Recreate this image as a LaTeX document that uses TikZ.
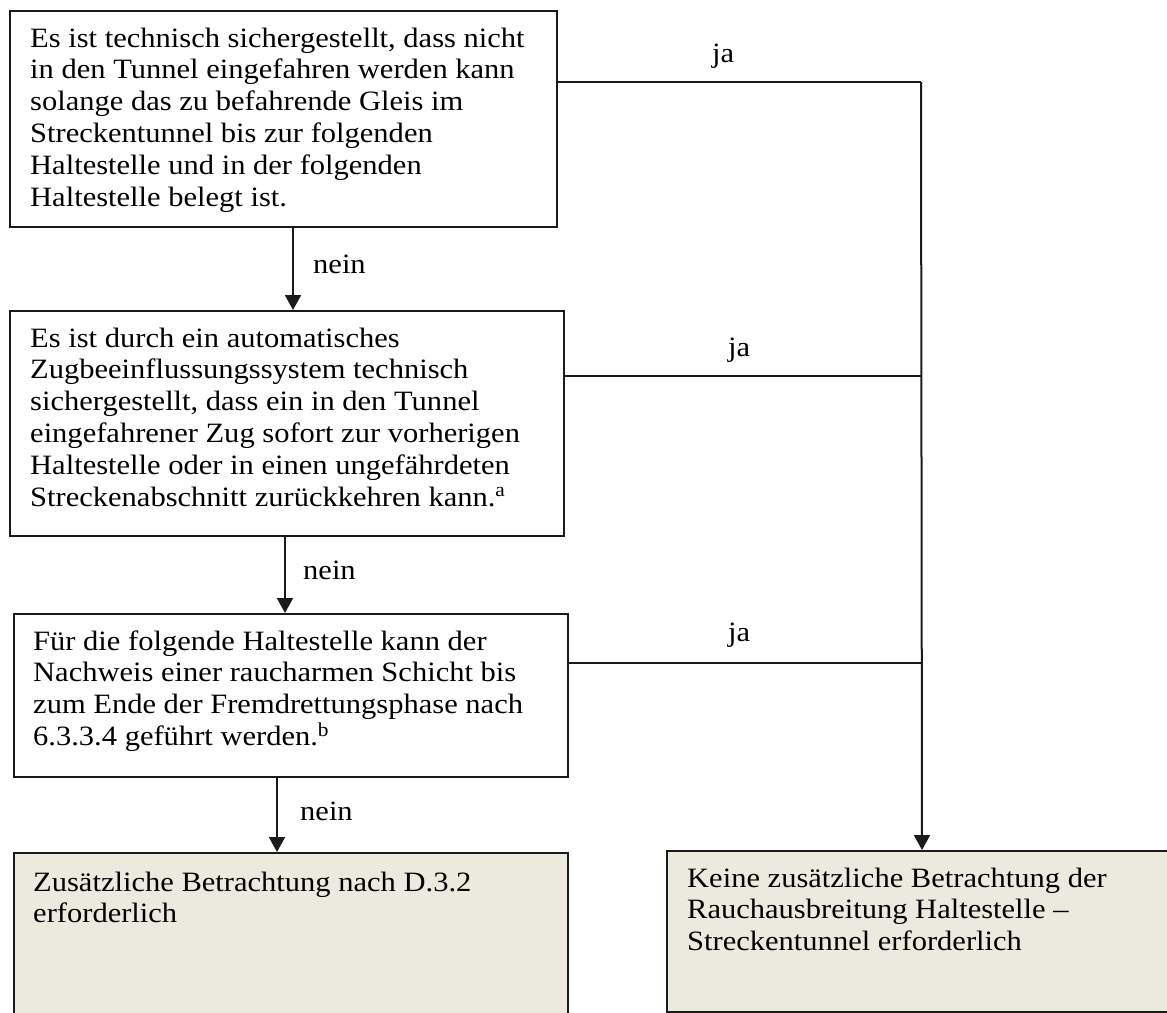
\documentclass[tikz,border=0pt]{standalone}
\usepackage{fontspec}
\setmainfont{Liberation Serif}[FakeStretch=1.09]
\usetikzlibrary{arrows.meta}
\definecolor{boxfill}{HTML}{ECE9DF}
\definecolor{ink}{HTML}{1A1A1A}
\newcommand{\blines}[1]{\begin{tabular}[t]{@{}l@{}}#1\end{tabular}}
\begin{document}
\begin{tikzpicture}[x=1pt,y=-1pt,
  box/.style={draw=ink, line width=2pt, rectangle, inner sep=0pt, anchor=north west},
  endbox/.style={box, fill=boxfill},
  txt/.style={anchor=base west, inner sep=0pt, font=\fontsize{28}{31.8}\selectfont, text=black},
  lbl/.style={anchor=base west, inner sep=0pt, font=\fontsize{28}{31.8}\selectfont, text=black},
  conn/.style={draw=ink, line width=2pt},
  arr/.style={conn, -{Triangle[width=16pt,length=15pt]}}]
\useasboundingbox (0,0) rectangle (1167,1012);

% boxes
\node[box, minimum width=547pt, minimum height=216pt] (b1) at (9,10) {};
\node[box, minimum width=554pt, minimum height=225pt] (b2) at (9,310) {};
\node[box, minimum width=554pt, minimum height=163pt] (b3) at (13,613) {};
\node[endbox, minimum width=554pt, minimum height=170pt] (bl) at (13,852) {};
\node[endbox, minimum width=510pt, minimum height=161pt] (br) at (666,850) {};

% texts
\node[txt] (t1) at (30,47) {\blines{Es ist technisch sichergestellt, dass nicht\\in den Tunnel eingefahren werden kann\\solange das zu befahrende Gleis im\\Streckentunnel bis zur folgenden\\Haltestelle und in der folgenden\\Haltestelle belegt ist.}};
\node[txt] (t2) at (30,347) {\blines{Es ist durch ein automatisches\\Zugbeeinflussungssystem technisch\\sichergestellt, dass ein in den Tunnel\\eingefahrener Zug sofort zur vorherigen\\Haltestelle oder in einen ungefährdeten\\Streckenabschnitt zurückkehren kann.\textsuperscript{a}}};
\node[txt] (t3) at (33,650) {\blines{Für die folgende Haltestelle kann der\\Nachweis einer raucharmen Schicht bis\\zum Ende der Fremdrettungsphase nach\\6.3.3.4 geführt werden.\textsuperscript{b}}};
\node[txt] (tl) at (33,891) {\blines{Zusätzliche Betrachtung nach D.3.2\\erforderlich}};
\node[txt] (tr) at (687,887) {\blines{Keine zusätzliche Betrachtung der\\Rauchausbreitung Haltestelle –\\Streckentunnel erforderlich}};

% helper coordinates
\coordinate (x1) at (293,0);
\coordinate (x2) at (285,0);
\coordinate (x3) at (277,0);
\coordinate (j1) at (921,82);
\coordinate (j2) at (921,376);
\coordinate (j3) at (921,663);

% nein arrows
\draw[arr] (b1.south -| x1) -- (b2.north -| x1);
\draw[arr] (b2.south -| x2) -- (b3.north -| x2);
\draw[arr] (b3.south -| x3) -- (bl.north -| x3);

% ja lines
\draw[conn] (b1.east |- j1) -- (j1);
\draw[conn] (b2.east |- j2) -- (j2);
\draw[conn] (b3.east |- j3) -- (j3);
\draw[arr] (j1) -- (br.north);

% labels
\node[lbl] (n1) at (313,273) {nein};
\node[lbl] (n2) at (303,579) {nein};
\node[lbl] (n3) at (300,820) {nein};
\node[lbl] (y1) at (712,62) {ja};
\node[lbl] (y2) at (728,356) {ja};
\node[lbl] (y3) at (728,641) {ja};
\end{tikzpicture}
\end{document}
